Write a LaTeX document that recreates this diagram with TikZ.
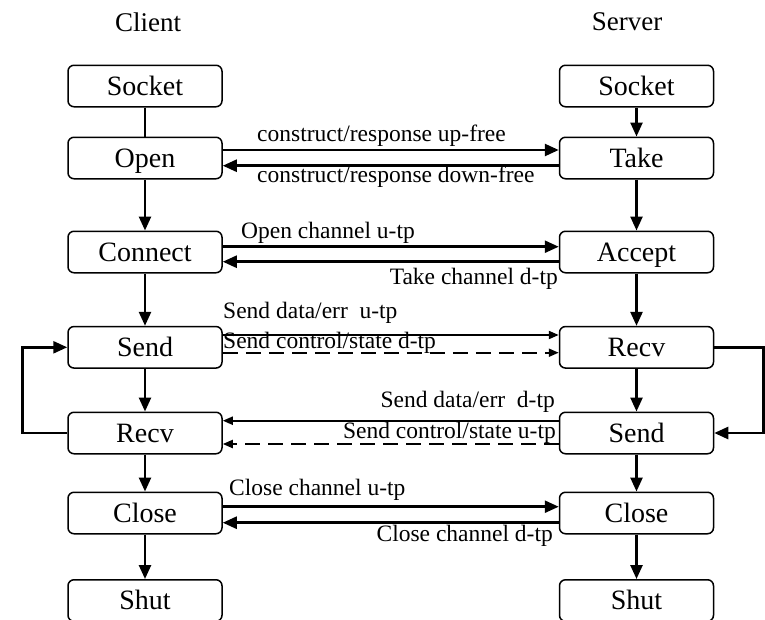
\documentclass[tikz,border=0pt]{standalone}
\usepackage{fontspec}
\setmainfont{Liberation Serif}
\usetikzlibrary{arrows.meta}

\tikzset{
  caja/.style={draw, line width=1.5pt, rounded corners=6pt, minimum width=154pt,
    minimum height=41.5pt, inner sep=0pt, text height=18.5pt, text depth=0pt,
    font=\fontsize{28}{32}\selectfont},
  titulo/.style={inner sep=0pt, font=\fontsize{27}{31}\selectfont},
  etiqueta/.style={inner sep=0pt, font=\fontsize{23.5}{27}\selectfont},
  linea/.style={line width=2.5pt},
  flecha/.style={line width=2.5pt, -{Triangle[length=14pt,width=12pt]}},
  flechita/.style={line width=2pt, -{Triangle[length=10pt,width=8pt]}},
  discont/.style={dash pattern=on 15pt off 8pt}
}

\begin{document}
\begin{tikzpicture}[x=1pt, y=-1pt]
  \useasboundingbox (0,0) rectangle (765,619);

  % Titulos
  \node[titulo] (tCliente) at (148,22) {Client};
  \node[titulo] (tServidor) at (627,22) {Server};

  % Cajas del cliente
  \node[caja] (cSocket) at (145,86) {Socket};
  \node[caja] (cOpen) at (145,158) {Open};
  \node[caja] (cConnect) at (145,252) {Connect};
  \node[caja] (cSend) at (145,347.3) {Send};
  \node[caja] (cRecv) at (145,433) {Recv};
  \node[caja] (cClose) at (145,513) {Close};
  \node[caja] (cShut) at (145,600.5) {Shut};

  % Cajas del servidor
  \node[caja] (sSocket) at (636.5,86) {Socket};
  \node[caja] (sTake) at (636.5,158) {Take};
  \node[caja] (sAccept) at (636.5,252) {Accept};
  \node[caja] (sRecv) at (636.5,347.3) {Recv};
  \node[caja] (sSend) at (636.5,433) {Send};
  \node[caja] (sClose) at (636.5,513) {Close};
  \node[caja] (sShut) at (636.5,600.5) {Shut};

  % Flujo vertical
  \draw[linea] (cSocket) -- (cOpen);
  \draw[flecha] (cOpen) -- (cConnect);
  \draw[flecha] (cConnect) -- (cSend);
  \draw[flecha] (cSend) -- (cRecv);
  \draw[flecha] (cRecv) -- (cClose);
  \draw[flecha] (cClose) -- (cShut);
  \draw[flecha] (sSocket) -- (sTake);
  \draw[flecha] (sTake) -- (sAccept);
  \draw[flecha] (sAccept) -- (sRecv);
  \draw[flecha] (sRecv) -- (sSend);
  \draw[flecha] (sSend) -- (sClose);
  \draw[flecha] (sClose) -- (sShut);

  % Bucles laterales
  \draw[flecha] (cRecv.west) -- ++(-45,0) |- (cSend.west);
  \draw[flecha] (sRecv.east) -- ++(49,0) |- (sSend.east);

  % Mensajes entre cliente y servidor
  \draw[flecha] ([yshift=8pt]cOpen.east) -- ([yshift=8pt]sTake.west);
  \draw[flecha] ([yshift=-7.7pt]sTake.west) -- ([yshift=-7.7pt]cOpen.east);
  \draw[flecha] ([yshift=5.3pt]cConnect.east) -- ([yshift=5.3pt]sAccept.west);
  \draw[flecha] ([yshift=-9.7pt]sAccept.west) -- ([yshift=-9.7pt]cConnect.east);
  \draw[flechita] ([yshift=12.3pt]cSend.east) -- ([yshift=12.3pt]sRecv.west);
  \draw[flechita, discont] ([yshift=-5.4pt]cSend.east) -- ([yshift=-5.4pt]sRecv.west);
  \draw[flechita] ([yshift=12.3pt]sSend.west) -- ([yshift=12.3pt]cRecv.east);
  \draw[flechita, discont] ([yshift=-11pt]sSend.west) -- ([yshift=-11pt]cRecv.east);
  \draw[flecha] ([yshift=6.3pt]cClose.east) -- ([yshift=6.3pt]sClose.west);
  \draw[flecha] ([yshift=-9.7pt]sClose.west) -- ([yshift=-9.7pt]cClose.east);

  % Etiquetas
  \node[etiqueta, anchor=west] (eOpenUp) at (257,136) {construct/response up-free};
  \node[etiqueta, anchor=west] (eOpenDown) at (257,177) {construct/response down-free};
  \node[etiqueta, anchor=west] (eConnUp) at (241,233) {Open channel u-tp};
  \node[etiqueta, anchor=east] (eConnDown) at (558,279) {Take channel d-tp};
  \node[etiqueta, anchor=west] (eSendData) at (223,313) {Send data/err\ \ u-tp};
  \node[etiqueta, anchor=west] (eSendCtrl) at (223,343) {Send control/state d-tp};
  \node[etiqueta, anchor=east] (eRecvData) at (555,402) {Send data/err\ \ d-tp};
  \node[etiqueta, anchor=east] (eRecvCtrl) at (556,433) {Send control/state u-tp};
  \node[etiqueta, anchor=west] (eCloseUp) at (229,490) {Close channel u-tp};
  \node[etiqueta, anchor=east] (eCloseDown) at (553,536) {Close channel d-tp};
\end{tikzpicture}
\end{document}
